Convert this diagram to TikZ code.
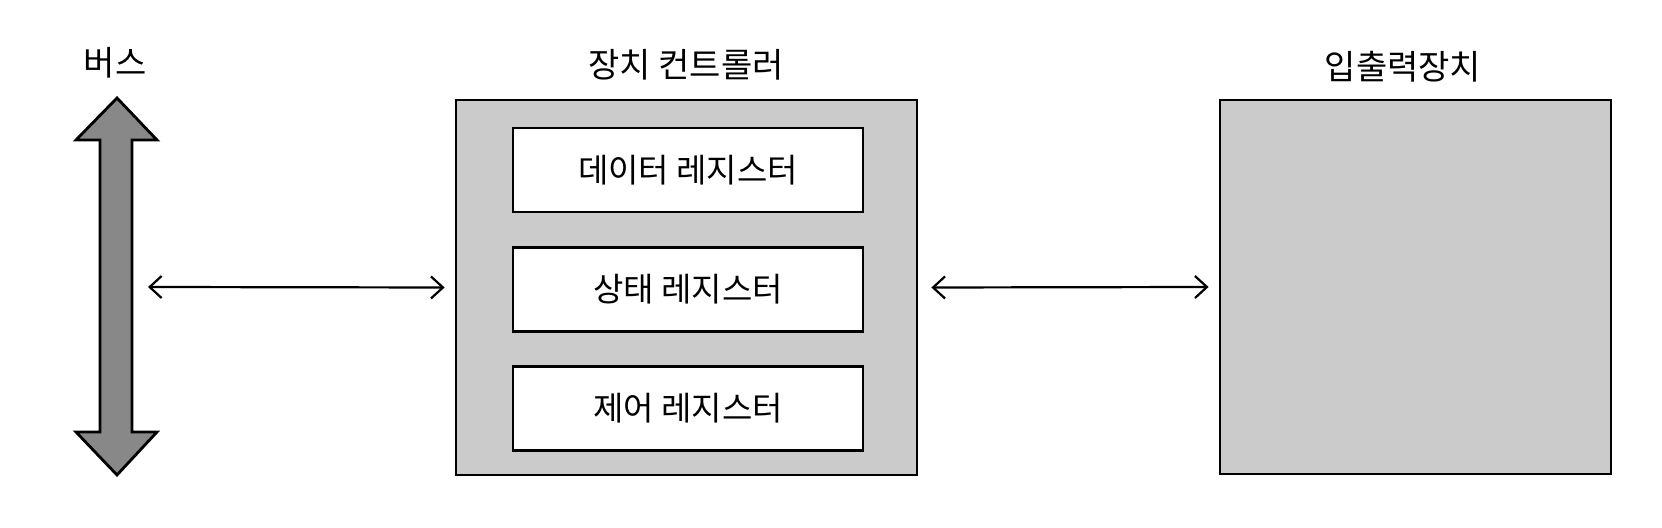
\documentclass[tikz,border=0pt]{standalone}
\usepackage{fontspec}
\newfontfamily\kr{Noto Sans CJK KR}
\usetikzlibrary{arrows.meta}
\definecolor{boxgray}{HTML}{CBCBCB}
\definecolor{busgray}{HTML}{888888}
\tikzset{
  outer/.style={draw=black, line width=1.4pt, fill=boxgray, inner sep=0pt},
  reg/.style={draw=black, line width=1.4pt, fill=white, inner sep=0pt,
    minimum width=175pt, minimum height=42pt, font=\kr\fontsize{16.5pt}{19pt}\selectfont},
  title/.style={font=\kr\fontsize{17pt}{20pt}\selectfont, inner sep=0pt},
  conn/.style={line width=1.1pt, {Straight Barb[length=6pt,width=11pt,line width=1.1pt]}-{Straight Barb[length=6pt,width=11pt,line width=1.1pt]}},
}
\begin{document}
\begin{tikzpicture}[x=0.5pt, y=-0.5pt]
\useasboundingbox (0,0) rectangle (1662,528);
% bus arrow
\draw[line width=1.4pt, fill=busgray, line join=miter]
  (117,98) -- (157,140) -- (132,140) -- (132,432) -- (157,432) -- (117,475)
  -- (76,432) -- (100,432) -- (100,140) -- (76,140) -- cycle;
\node[title] (bustitle) at (115,63) {버스};
\coordinate (busR) at (148,287);
% device controller
\node[outer, minimum width=230.5pt, minimum height=187.5pt] (ctrl) at (686.5,287.5) {};
\node[title] (ctrltitle) at (686,65) {장치 컨트롤러};
\node[reg] (data) at (688,170) {데이터 레지스터};
\node[reg] (state) at (688,289.5) {상태 레지스터};
\node[reg] (control) at (688,408.5) {제어 레지스터};
% io device
\node[outer, minimum width=195.5pt, minimum height=187pt] (io) at (1415.5,287) {};
\node[title] (iotitle) at (1403,67) {입출력장치};
% connectors
\draw[conn] (busR) -- ([xshift=-5pt]ctrl.west);
\draw[conn] ([xshift=6.5pt]ctrl.east) -- ([xshift=-5pt]io.west);
\end{tikzpicture}
\end{document}
